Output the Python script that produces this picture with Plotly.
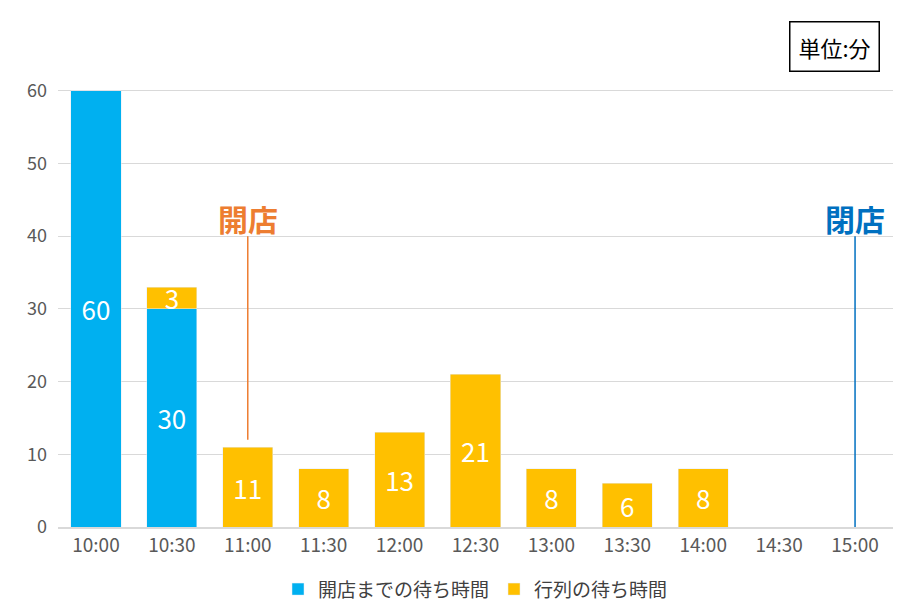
import plotly.graph_objects as go

categories = ["10:00","10:30","11:00","11:30","12:00","12:30","13:00","13:30","14:00","14:30","15:00"]
wait_before_open = [60, 30, None, None, None, None, None, None, None, None, None]
queue_wait = [None, 3, 11, 8, 13, 21, 8, 6, 8, None, None]
y_ticks = [0, 10, 20, 30, 40, 50, 60, 70]

BLUE = "#00B0F0"
ORANGE = "#FFC000"
FONT = "Noto Sans CJK JP"

fig = go.Figure()
fig.add_bar(x=categories, y=wait_before_open, name="開店までの待ち時間", marker_color=BLUE,
            text=wait_before_open, textposition="inside", insidetextanchor="middle", textangle=0,
            textfont=dict(color="white", size=26, family=FONT))
fig.add_bar(x=categories, y=queue_wait, name="行列の待ち時間", marker_color=ORANGE,
            text=queue_wait, textposition="inside", insidetextanchor="middle", textangle=0,
            textfont=dict(color="white", size=26, family=FONT), constraintext="none")

fig.add_shape(type="line", xref="x", yref="y", x0="11:00", x1="11:00", y0=12, y1=40,
              line=dict(color="#ED7D31", width=1.5))
fig.add_shape(type="line", xref="x", yref="y", x0="15:00", x1="15:00", y0=0, y1=40,
              line=dict(color="#0070C0", width=1.5))
fig.add_annotation(x="11:00", y=40, text="<b>開店</b>", showarrow=False, yanchor="bottom", yshift=-6,
                   font=dict(color="#ED7D31", size=30, family=FONT))
fig.add_annotation(x="15:00", y=40, text="<b>閉店</b>", showarrow=False, yanchor="bottom", yshift=-6,
                   font=dict(color="#0070C0", size=30, family=FONT))
fig.add_annotation(xref="paper", yref="paper", x=0.985, y=0.995, xanchor="right", yanchor="top",
                   text="単位:分", showarrow=False, bordercolor="black", borderwidth=1.5,
                   borderpad=8, bgcolor="white", font=dict(size=22, color="black", family=FONT))

fig.update_layout(
    width=916, height=610, barmode="stack", bargap=0.34,
    plot_bgcolor="white", paper_bgcolor="white",
    margin=dict(l=50, r=31, t=10, b=91),
    font=dict(family=FONT, color="#595959", size=17),
    showlegend=True,
    legend=dict(orientation="h", x=0.5, xanchor="center", y=-0.085, yanchor="top",
                traceorder="normal", font=dict(size=19, color="#404040"), itemwidth=30),
    xaxis=dict(showline=True, linecolor="#D9D9D9", linewidth=1.5, tickfont=dict(size=19)),
    yaxis=dict(range=[0, 70], tickvals=y_ticks, gridcolor="#D9D9D9", gridwidth=1.2,
               zeroline=False, tickfont=dict(size=18), ticklabelstandoff=10),
)
fig.write_html("out.html")
